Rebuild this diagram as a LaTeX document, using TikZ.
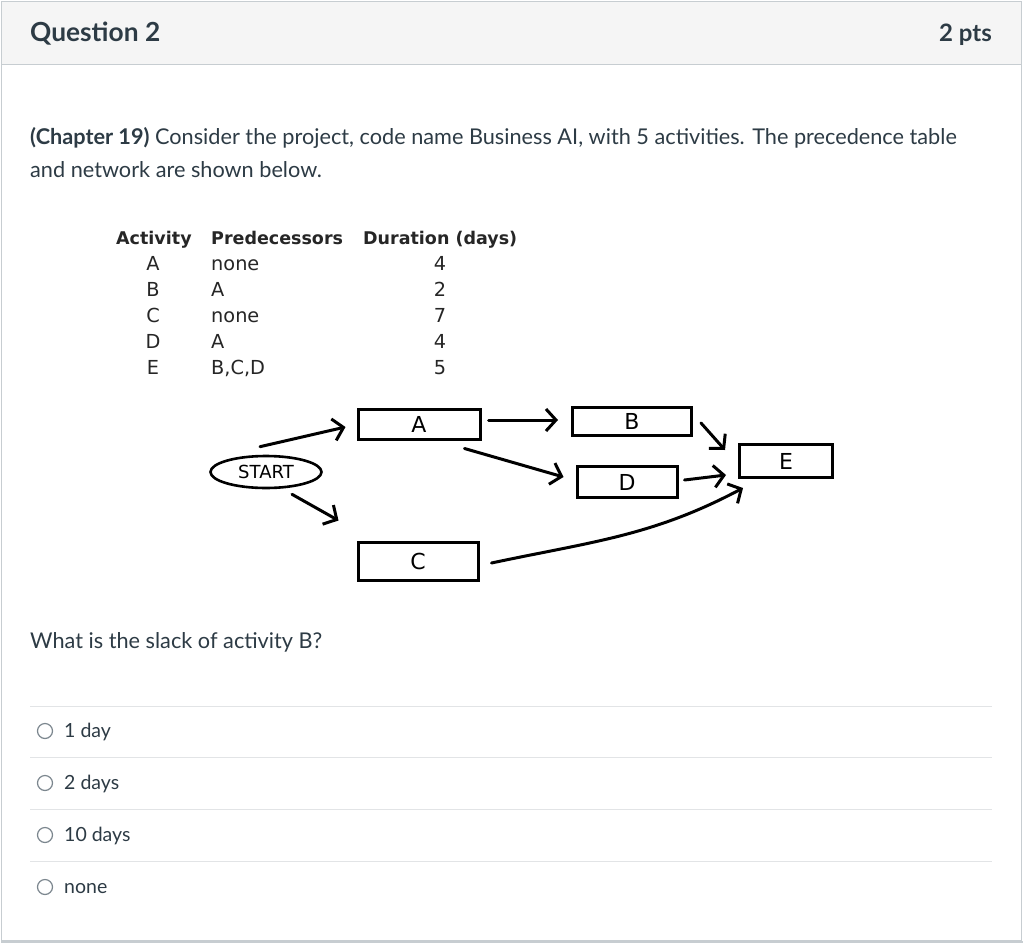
\documentclass[tikz,border=0pt]{standalone}
\usepackage{fontspec}
\setmainfont{Lato}
\newfontfamily\tabfont{DejaVu Sans}
\usetikzlibrary{arrows.meta,shapes.geometric}
\definecolor{ink}{HTML}{2D3B45}
\definecolor{headgray}{HTML}{F5F5F5}
\definecolor{framegray}{HTML}{C7CDD1}
\definecolor{rulegray}{HTML}{E2E4E6}
\definecolor{radiogray}{HTML}{7B868E}
\tikzset{
  txt/.style={inner sep=0pt, text=ink, anchor=base west, font=\fontsize{21.7}{26}\selectfont},
  choice/.style={txt, font=\fontsize{19.5}{24}\selectfont},
  thead/.style={inner sep=0pt, text=black!85, anchor=base west, font=\tabfont\bfseries\fontsize{17.5}{20}\selectfont},
  tcell/.style={inner sep=0pt, text=black!85, anchor=base, font=\tabfont\fontsize{19.3}{22}\selectfont},
  radio/.style={shape=circle, draw=radiogray, line width=1.2pt, minimum size=15pt, inner sep=0pt},
  activity/.style={draw, line width=3pt, inner sep=0pt, font=\tabfont\fontsize{22}{24}\selectfont},
  begin/.style={shape=ellipse, draw, line width=2.6pt, inner sep=0pt, minimum width=111pt, minimum height=32pt, font=\tabfont\fontsize{18}{20}\selectfont},
  arr/.style={-{Straight Barb[length=10pt,width=22pt]}, line width=3pt, line cap=round}
}
\begin{document}
\begin{tikzpicture}[x=1pt,y=-1pt]
\useasboundingbox (0,0) rectangle (1024,944);
\fill[white] (0,0) rectangle (1024,944);
\fill[headgray] (2,2) rectangle (1021,65);
\draw[framegray, line width=1pt] (1.5,1.5) rectangle (1021.5,940.5);
\draw[framegray, line width=1pt] (2,65) -- (1021,65);
\draw[framegray, line width=2pt] (1,941.5) -- (1023,941.5);

\node(title)  at (30,42)[txt, font=\fontsize{26.3}{30}\selectfont\bfseries]  {Question 2};
\node(points) at (992,42)[txt, anchor=base east, font=\fontsize{24}{28}\selectfont\bfseries] {2 pts};

\node(intro1) at (30,145)[txt] {\textbf{(Chapter 19)} Consider the project, code name Business AI, with 5 activities. The precedence table};
\node(intro2) at (30,178)[txt] {and network are shown below.};

\node(hAct) at (116,244)[thead]        {Activity};
\node(hPre) at (211,244)[thead]        {Predecessors};
\node(hDur) at (363,244)[thead]        {Duration (days)};

\node(aA)   at (153,270)[tcell]        {A};
\node(pA)   at (211,270)[tcell, anchor=base west] {none};
\node(dA)   at (440,270)[tcell]        {4};
\node(aB)   at (153,296)[tcell]        {B};
\node(pB)   at (211,296)[tcell, anchor=base west] {A};
\node(dB)   at (440,296)[tcell]        {2};
\node(aC)   at (153,322)[tcell]        {C};
\node(pC)   at (211,322)[tcell, anchor=base west] {none};
\node(dC)   at (440,322)[tcell]        {7};
\node(aD)   at (153,348)[tcell]        {D};
\node(pD)   at (211,348)[tcell, anchor=base west] {A};
\node(dD)   at (440,348)[tcell]        {4};
\node(aE)   at (153,374)[tcell]        {E};
\node(pE)   at (211,374)[tcell, anchor=base west] {B,C,D};
\node(dE)   at (440,374)[tcell]        {5};

\node(start) at (266,472)[begin]                                      {START};
\node(A)     at (419,424)[activity, minimum width=122pt, minimum height=30pt] {A};
\node(B)     at (632,421)[activity, minimum width=119pt, minimum height=28pt] {B};
\node(C)     at (418,561)[activity, minimum width=120pt, minimum height=38pt] {C};
\node(D)     at (627,482)[activity, minimum width=100pt, minimum height=31pt] {D};
\node(E)     at (786,461)[activity, minimum width=93pt,  minimum height=33pt] {E};

\path [arr]
  ([xshift=-6pt,yshift=8pt]start.north)    edge  ([xshift=-11pt,yshift=-3pt]A.west)
  ([xshift=26pt,yshift=-5pt]start.south)   edge  ([xshift=-18pt,yshift=20pt]C.north west)
  ([xshift=7pt,yshift=4pt]A.east)          edge  ([xshift=-13pt,yshift=1pt]B.west)
  ([xshift=-17pt,yshift=-8pt]A.south east) edge  ([xshift=-12pt,yshift=5pt]D.west)
  ([xshift=8pt,yshift=-2pt]B.east)         edge  ([xshift=-13pt,yshift=11pt]E.west)
  ([xshift=6pt,yshift=2pt]D.east)          edge  ([xshift=-12pt,yshift=-14pt]E.west)
  ([xshift=12pt,yshift=-2pt]C.east)        edge [out=12, in=-152] ([xshift=5pt,yshift=-9pt]E.south west);

\node(ask) at (30,648)[txt] {What is the slack of activity B?};

\draw[rulegray, line width=1pt] (30,706) -- (992,706);
\draw[rulegray, line width=1pt] (30,757) -- (992,757);
\draw[rulegray, line width=1pt] (30,809) -- (992,809);
\draw[rulegray, line width=1pt] (30,861) -- (992,861);

\node(r1) at (45,731)[radio] {};
\node(r2) at (45,783)[radio] {};
\node(r3) at (45,835)[radio] {};
\node(r4) at (45,887)[radio] {};
\node(o1) at (64,737)[choice] {1 day};
\node(o2) at (64,789)[choice] {2 days};
\node(o3) at (64,841)[choice] {10 days};
\node(o4) at (64,893)[choice] {none};
\end{tikzpicture}
\end{document}
